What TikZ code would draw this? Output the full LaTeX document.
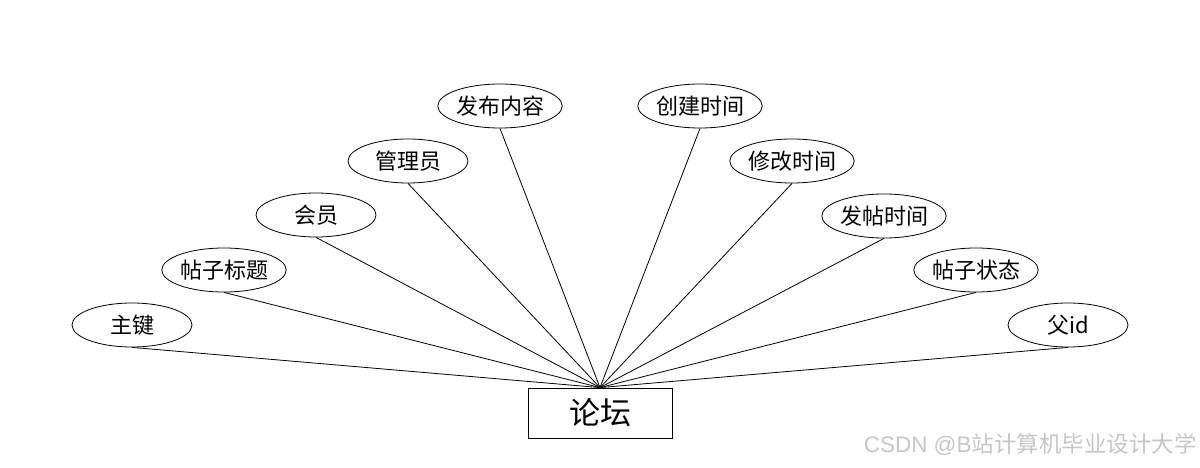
\documentclass[tikz,border=0pt]{standalone}
\usepackage{fontspec}
\setmainfont{Noto Sans CJK SC}
\newfontfamily\latinfont{Liberation Sans}
\usetikzlibrary{shapes}
\usetikzlibrary{positioning}

\begin{document}
\begin{tikzpicture}[x=1pt,y=-1pt,line width=0.8pt]
  \useasboundingbox (0,0) rectangle (1200,468);
  \node[draw,minimum width=144pt,minimum height=50pt,font=\fontsize{31}{31}\selectfont] (luntan) at (600,413) {论坛};
    \foreach \x/\y/\t/\n in {132/325/主键/zhujian,224/270/帖子标题/biaoti,316/215/会员/huiyuan,408/161/管理员/guanli,500/106/发布内容/neirong,700/106/创建时间/chuangjian,792/161/修改时间/xiugai,884/216/发帖时间/fatie,976/270/帖子状态/zhuangtai,1068/325/父id/fuid}{
      \node[draw,ellipse,inner sep=0pt,minimum width=120pt,minimum height=44pt,font=\fontsize{22}{22}\selectfont] (\n) at (\x,\y) {\t};
      \draw (\n.south) -- (luntan.north);
    }
    \node[anchor=east,inner sep=0pt,text=gray!45,font=\fontsize{22.5}{22.5}\selectfont] (csdn) at (1197,445) {{\latinfont CSDN @B}站计算机毕业设计大学};
  \end{tikzpicture}
\end{document}
